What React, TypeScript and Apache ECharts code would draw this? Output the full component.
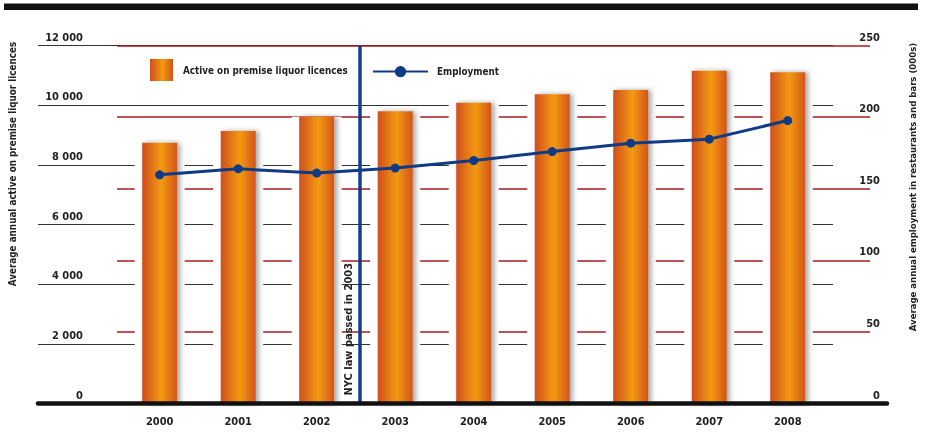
import React, { useEffect, useRef } from "react";
import * as echarts from "echarts";

const years = ["2000", "2001", "2002", "2003", "2004", "2005", "2006", "2007", "2008"];
const licences = [8740, 9130, 9610, 9800, 10080, 10370, 10510, 11150, 11100];
const employment = [159.7, 163.9, 160.9, 164.4, 169.7, 175.9, 181.8, 184.6, 197.6];
const lawPosition = 2.55; // fractional category index where the NYC law line sits
const lawLabel = "NYC law passed in 2003";
const leftAxisName = "Average annual active on premise liquor licences";
const rightAxisName = "Average annual employment in restaurants and bars (000s)";
const barName = "Active on premise liquor licences";
const lineName = "Employment";

const FONT = "'Liberation Sans Narrow', 'DejaVu Sans Condensed', 'Open Sans', sans-serif";
const fmt = (v: number) => String(v).replace(/\B(?=(\d{3})+(?!\d))/g, " ");

export default function App() {
  const ref = useRef<HTMLDivElement>(null);
  useEffect(() => {
    if (!ref.current) return;
    const chart = echarts.init(ref.current, undefined, { renderer: "svg" });
    const top = 45.5;
    const bottom = 44.5;
    const barGrad = new echarts.graphic.LinearGradient(0, 0, 1, 0, [
      { offset: 0, color: "#d04e1e" },
      { offset: 0.55, color: "#f39a10" },
      { offset: 1, color: "#d2541c" },
    ]);
    chart.setOption({
      animation: false,
      textStyle: { fontFamily: FONT },
      grid: [
        { left: 120.45, right: 100, top, bottom },
        { left: 38, right: 94, top, bottom },
        { left: 117, right: 57, top, bottom },
        { left: 38, right: 40, top, bottom },
      ],
      xAxis: [
        {
          type: "category",
          gridIndex: 0,
          data: years,
          axisLine: { show: false },
          axisTick: { show: false },
          axisLabel: { margin: 12, color: "#222", fontSize: 11, fontWeight: 600, fontFamily: FONT },
          z: 3,
        },
        { type: "value", gridIndex: 0, min: -0.5, max: 8.5, show: false },
        { type: "value", gridIndex: 1, min: 0, max: 1, show: false },
        { type: "value", gridIndex: 2, min: 0, max: 1, show: false },
        {
          type: "value",
          gridIndex: 3,
          min: 0,
          max: 1,
          axisLine: { show: true, lineStyle: { color: "#111", width: 4.5 } },
          axisTick: { show: false },
          axisLabel: { show: false },
          splitLine: { show: false },
          z: 5,
        },
        { type: "category", gridIndex: 0, data: years, show: false },
      ],
      yAxis: [
        { type: "value", gridIndex: 0, min: 0, max: 12000, show: false },
        { type: "value", gridIndex: 0, min: 0, max: 250, show: false, position: "right" },
        {
          type: "value",
          gridIndex: 1,
          min: 0,
          max: 12000,
          interval: 2000,
          axisLine: { show: false },
          axisTick: { show: false },
          axisLabel: {
            inside: true,
            margin: 45,
            align: "right",
            verticalAlign: "bottom",
            padding: [0, 0, 3, 0],
            color: "#222",
            fontSize: 11,
            fontWeight: 600,
            fontFamily: FONT,
            showMinLabel: true,
            showMaxLabel: true,
            formatter: (v: number) => fmt(v),
          },
          splitLine: { show: true, lineStyle: { color: "#333333", width: 1.2 } },
        },
        {
          type: "value",
          gridIndex: 2,
          min: 0,
          max: 250,
          interval: 50,
          position: "right",
          axisLine: { show: false },
          axisTick: { show: false },
          axisLabel: {
            margin: 10,
            align: "right",
            verticalAlign: "bottom",
            padding: [0, 0, 3, 0],
            color: "#222",
            fontSize: 11,
            fontWeight: 600,
            fontFamily: FONT,
            showMinLabel: true,
            showMaxLabel: true,
          },
          splitLine: { show: true, lineStyle: { color: "#a8181c", width: 1.5 } },
        },
        { type: "value", gridIndex: 3, min: 0, max: 1, show: false },
      ],
      legend: [
        {
          data: [{ name: barName, icon: "rect" }],
          left: 150,
          top: 59,
          padding: 0,
          itemWidth: 23,
          itemHeight: 22,
          textStyle: { color: "#222", fontSize: 9.8, fontWeight: 600, fontFamily: FONT, padding: [0, 0, 0, 5] },
        },
        {
          data: [lineName],
          left: 372,
          top: 66,
          padding: 0,
          itemWidth: 55,
          itemHeight: 14,
          textStyle: { color: "#222", fontSize: 9.8, fontWeight: 600, fontFamily: FONT, padding: [0, 0, 0, 4] },
        },
      ],
      graphic: [
        { type: "rect", shape: { x: 4, y: 3.5, width: 914, height: 6.5 }, style: { fill: "#111" } },
        {
          type: "text",
          x: 12,
          y: 164,
          rotation: Math.PI / 2,
          style: {
            text: leftAxisName,
            align: "center",
            verticalAlign: "middle",
            fill: "#222",
            fontSize: 9.8,
            fontWeight: 600,
            fontFamily: FONT,
          },
        },
        {
          type: "text",
          x: 912,
          y: 187,
          rotation: Math.PI / 2,
          style: {
            text: rightAxisName,
            align: "center",
            verticalAlign: "middle",
            fill: "#222",
            fontSize: 9.5,
            fontWeight: 600,
            fontFamily: FONT,
          },
        },
      ],
      series: [
        {
          name: "halo",
          type: "bar",
          xAxisIndex: 5,
          yAxisIndex: 0,
          data: licences,
          barWidth: 50,
          itemStyle: { color: "#ffffff" },
          silent: true,
          z: 1,
        },
        {
          name: barName,
          type: "bar",
          xAxisIndex: 0,
          yAxisIndex: 0,
          data: licences,
          barWidth: 35,
          itemStyle: {
            color: barGrad,
            shadowColor: "rgba(0,0,0,0.35)",
            shadowBlur: 5,
            shadowOffsetX: 3,
            shadowOffsetY: 0,
          },
          z: 2,
        },
        {
          name: "law",
          type: "line",
          xAxisIndex: 1,
          yAxisIndex: 0,
          data: [],
          z: 3,
          markLine: {
            silent: true,
            symbol: "none",
            lineStyle: { color: "#123f8c", width: 3.5, type: "solid" },
            label: {
              show: true,
              formatter: lawLabel,
              position: "insideStartTop",
              color: "#222",
              fontSize: 11,
              fontWeight: 600,
              fontFamily: FONT,
              distance: [8, 6],
            },
            data: [{ xAxis: lawPosition }],
          },
        },
        {
          name: lineName,
          type: "line",
          xAxisIndex: 0,
          yAxisIndex: 1,
          data: employment,
          symbol: "circle",
          symbolSize: 9,
          lineStyle: { color: "#0f3a86", width: 3 },
          itemStyle: { color: "#0f3a86" },
          z: 4,
        },
      ],
    });
    return () => chart.dispose();
  }, []);
  return <div ref={ref} style={{ position: "fixed", left: 0, top: 0, width: 927, height: 448 }} />;
}
